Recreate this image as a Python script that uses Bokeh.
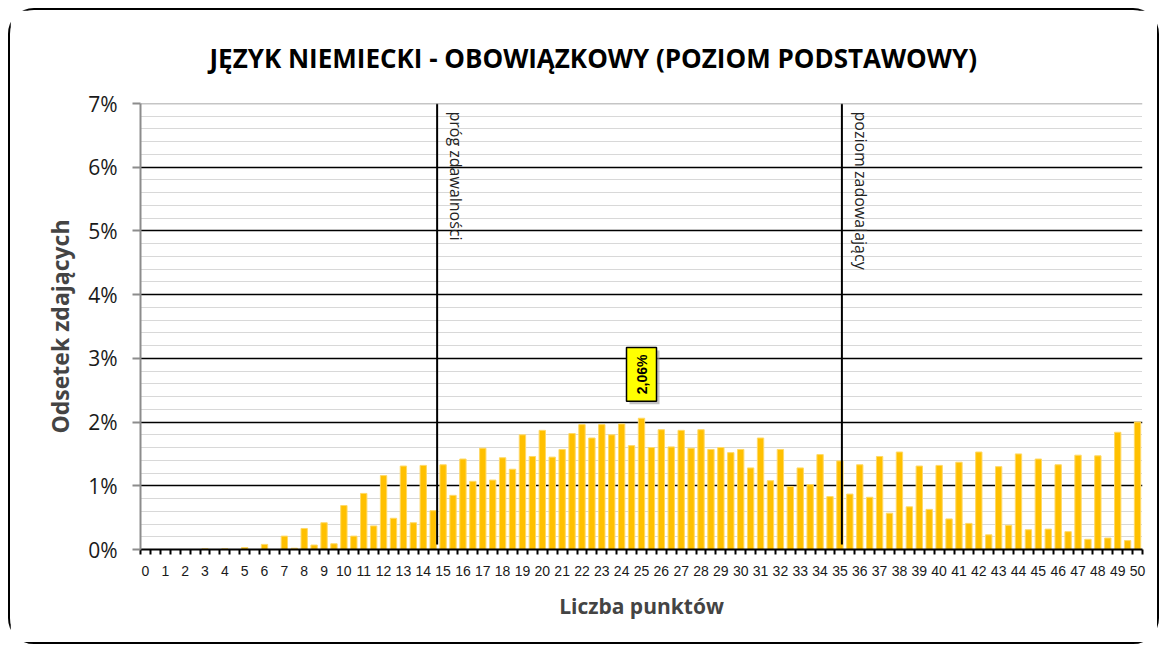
import math
from bokeh.plotting import figure
from bokeh.models import FixedTicker, Label, Span, Range1d, ColumnDataSource
from bokeh.embed import file_html
from bokeh.resources import INLINE

# ---- data ----
title_text = "JĘZYK NIEMIECKI - OBOWIĄZKOWY (POZIOM PODSTAWOWY)"
x_label = "Liczba punktów"
y_label = "Odsetek zdających"

points = [k / 2 for k in range(0, 101)]  # 0, 0.5, ..., 50
percent = [
    0.00, 0.00, 0.00, 0.00, 0.00, 0.00, 0.01, 0.00, 0.01, 0.00,   # 0 - 4.5
    0.03, 0.00, 0.08, 0.00, 0.21, 0.02, 0.33, 0.07, 0.42, 0.09,   # 5 - 9.5
    0.69, 0.21, 0.88, 0.37, 1.16, 0.49, 1.31, 0.42, 1.32, 0.61,   # 10 - 14.5
    1.33, 0.85, 1.42, 1.07, 1.59, 1.09, 1.44, 1.26, 1.80, 1.46,   # 15 - 19.5
    1.87, 1.45, 1.57, 1.82, 1.96, 1.75, 1.96, 1.80, 1.97, 1.63,   # 20 - 24.5
    2.06, 1.60, 1.88, 1.61, 1.87, 1.59, 1.88, 1.57, 1.60, 1.52,   # 25 - 29.5
    1.57, 1.28, 1.75, 1.08, 1.57, 0.99, 1.28, 1.02, 1.49, 0.83,   # 30 - 34.5
    1.39, 0.87, 1.33, 0.82, 1.46, 0.57, 1.53, 0.67, 1.31, 0.63,   # 35 - 39.5
    1.32, 0.48, 1.37, 0.41, 1.53, 0.23, 1.30, 0.38, 1.50, 0.31,   # 40 - 44.5
    1.42, 0.32, 1.33, 0.28, 1.48, 0.16, 1.47, 0.18, 1.84, 0.14,   # 45 - 49.5
    2.00,                                                          # 50
]
x_tick_values = list(range(0, 51))
y_tick_values = [0, 1, 2, 3, 4, 5, 6, 7]
y_tick_labels = ["0%", "1%", "2%", "3%", "4%", "5%", "6%", "7%"]

threshold_x = [14.7, 35.1]
threshold_labels = ["próg zdawalności", "poziom zadowalający"]

peak_point = 25
peak_value = 2.06
peak_label = "2,06%"

# ---- figure ----
p = figure(width=1151, height=636,
           x_range=Range1d(-0.25, 50.25), y_range=Range1d(0, 7),
           output_backend="svg", toolbar_location=None,
           min_border_left=130, min_border_right=19,
           min_border_top=93, min_border_bottom=97)
p.styles = {"border": "2px solid black", "border-radius": "26px",
            "margin-left": "8px", "margin-top": "8px"}
p.outline_line_color = None
p.background_fill_color = "white"
p.border_fill_color = "white"

# title
p.title.text = title_text
p.title.align = "left"
p.title.offset = 69
p.title.standoff = 54
p.title.vertical_align = "middle"
p.title.text_font = "Open Sans"
p.title.text_font_style = "bold"
p.title.text_font_size = "26px"
p.title.text_color = "black"

# grid
minor_y = [i / 5 for i in range(0, 36) if i % 5 != 0]
p.xgrid.visible = False
p.ygrid.ticker = FixedTicker(ticks=y_tick_values[1:-1], minor_ticks=minor_y)
p.ygrid.grid_line_color = "black"
p.ygrid.grid_line_width = 1.3
p.ygrid.minor_grid_line_color = "#B0B0B0"
p.ygrid.minor_grid_line_dash = "1 1"
p.ygrid.minor_grid_line_width = 1
p.add_layout(Span(location=y_tick_values[-1], dimension="width",
                  line_color="#8C8C8C", line_width=1.5))

# y axis
p.yaxis.ticker = FixedTicker(ticks=y_tick_values)
p.yaxis.major_label_overrides = {v: lab for v, lab in zip(y_tick_values, y_tick_labels)}
p.yaxis.axis_line_color = "#8C8C8C"
p.yaxis.axis_line_width = 2
p.yaxis.major_tick_line_color = "#8C8C8C"
p.yaxis.major_tick_line_width = 2
p.yaxis.major_tick_in = 0
p.yaxis.major_tick_out = 8
p.yaxis.minor_tick_in = 0
p.yaxis.minor_tick_out = 0
p.yaxis.major_label_standoff = 15
p.yaxis.major_label_text_font = "Open Sans"
p.yaxis.major_label_text_font_size = "21px"
p.yaxis.major_label_text_color = "#1a1a1a"
p.yaxis.axis_label = y_label
p.yaxis.axis_label_text_font = "Open Sans"
p.yaxis.axis_label_text_font_style = "bold"
p.yaxis.axis_label_text_font_size = "23px"
p.yaxis.axis_label_standoff = 9

# x axis
bounds = [-0.25 + 0.5 * k for k in range(0, 102)]
p.xaxis.ticker = FixedTicker(ticks=x_tick_values, minor_ticks=bounds)
p.xaxis.axis_line_color = "black"
p.xaxis.axis_line_width = 2
p.xaxis.major_tick_in = 0
p.xaxis.major_tick_out = 0
p.xaxis.minor_tick_in = 0
p.xaxis.minor_tick_out = 5
p.xaxis.minor_tick_line_color = "black"
p.xaxis.minor_tick_line_width = 2
p.xaxis.major_label_standoff = 11
p.xaxis.major_label_text_font = "Liberation Sans"
p.xaxis.major_label_text_font_size = "14px"
p.xaxis.major_label_text_color = "#1a1a1a"
p.xaxis.axis_label = x_label
p.xaxis.axis_label_text_font = "Open Sans"
p.xaxis.axis_label_text_font_style = "bold"
p.xaxis.axis_label_text_font_size = "21px"
p.xaxis.axis_label_standoff = 13

# bars
src = ColumnDataSource(dict(x=points, top=percent))
p.vbar(x="x", top="top", width=0.32, source=src,
       fill_color="#FFC000", line_color="#FFD966", line_width=1)

# threshold lines
p.segment(x0=threshold_x, y0=[0.08, 0.08], x1=threshold_x, y1=[7, 7],
          line_color="black", line_width=2)
for tx, tl in zip(threshold_x, threshold_labels):
    p.add_layout(Label(x=tx, y=7, x_offset=19, y_offset=-8, text=tl,
                       angle=-math.pi / 2, text_align="left", text_baseline="middle",
                       text_font="Open Sans", text_font_size="16px", text_color="#222222"))

# peak data label (with shadow)
p.add_layout(Label(x=peak_point, y=peak_value, x_offset=3, y_offset=14, text=peak_label,
                   angle=math.pi / 2, text_align="left", text_baseline="middle",
                   text_font="Liberation Sans", text_font_style="bold", text_font_size="14px",
                   text_color="#9a9a9a", background_fill_color="#9a9a9a", background_fill_alpha=0.6,
                   padding=7))
p.add_layout(Label(x=peak_point, y=peak_value, y_offset=17, text=peak_label,
                   angle=math.pi / 2, text_align="left", text_baseline="middle",
                   text_font="Liberation Sans", text_font_style="bold", text_font_size="14px",
                   text_color="black", background_fill_color="#FFFF00",
                   border_line_color="black", border_line_width=1.5, padding=7))

open("out.html", "w").write(file_html(p, INLINE))
